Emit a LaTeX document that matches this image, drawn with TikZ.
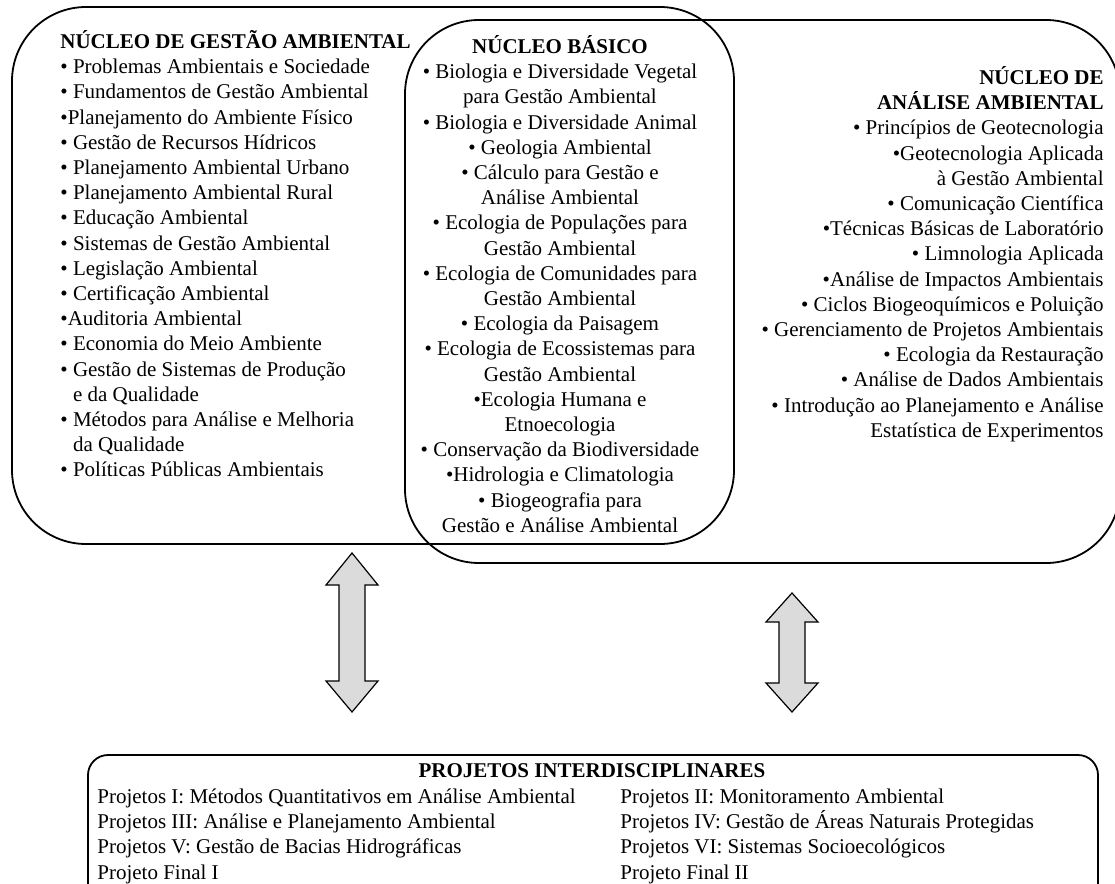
\documentclass[tikz,border=0pt]{standalone}
\usepackage{fontspec}
\setmainfont{Liberation Serif}
\usetikzlibrary{positioning}

\begin{document}
\begin{tikzpicture}[x=0.5pt,y=-0.5pt,
    nucleo/.style={draw, line width=0.9pt, rounded corners=37pt},
    lista/.style={inner sep=0pt, font=\fontsize{10.5}{12.6}\selectfont},
    setadupla/.style={draw, line width=0.6pt, fill=black!14}]
  \useasboundingbox (0,0) rectangle (1115,884);
  \clip (0,0) rectangle (1115,884);

  % os dois nucleos que se cruzam
  \draw[nucleo] (12,7) rectangle (734,544);
  \draw[nucleo] (405,20) rectangle (1120,563);

  \node[lista, anchor=north west, align=left] (gestao) at (60,30) {%
    \textbf{NÚCLEO DE GESTÃO AMBIENTAL}\\
    • Problemas Ambientais e Sociedade\\
    • Fundamentos de Gestão Ambiental\\
    •Planejamento do Ambiente Físico\\
    • Gestão de Recursos Hídricos\\
    • Planejamento Ambiental Urbano\\
    • Planejamento Ambiental Rural\\
    • Educação Ambiental\\
    • Sistemas de Gestão Ambiental\\
    • Legislação Ambiental\\
    • Certificação Ambiental\\
    •Auditoria Ambiental\\
    • Economia do Meio Ambiente\\
    • Gestão de Sistemas de Produção\\
    \hspace*{6.3pt}e da Qualidade\\
    • Métodos para Análise e Melhoria\\
    \hspace*{6.3pt}da Qualidade\\
    • Políticas Públicas Ambientais};

  \node[lista, anchor=north, align=center] (basico) at (560,35) {%
    \textbf{NÚCLEO BÁSICO}\\
    • Biologia e Diversidade Vegetal\\
    para Gestão Ambiental\\
    • Biologia e Diversidade Animal\\
    • Geologia Ambiental\\
    • Cálculo para Gestão e\\
    Análise Ambiental\\
    • Ecologia de Populações para\\
    Gestão Ambiental\\
    • Ecologia de Comunidades para\\
    Gestão Ambiental\\
    • Ecologia da Paisagem\\
    • Ecologia de Ecossistemas para\\
    Gestão Ambiental\\
    •Ecologia Humana e\\
    Etnoecologia\\
    • Conservação da Biodiversidade\\
    •Hidrologia e Climatologia\\
    • Biogeografia para\\
    Gestão e Análise Ambiental};

  \node[lista, anchor=north east, align=right] (analise) at (1104,66) {%
    \textbf{NÚCLEO DE}\\
    \textbf{ANÁLISE AMBIENTAL}\\
    • Princípios de Geotecnologia\hspace*{3.5pt}\\
    •Geotecnologia Aplicada\hspace*{1pt}\\
    à Gestão Ambiental\\
    • Comunicação Científica\\
    •Técnicas Básicas de Laboratório\\
    • Limnologia Aplicada\\
    •Análise de Impactos Ambientais\\
    • Ciclos Biogeoquímicos e Poluição\\
    • Gerenciamento de Projetos Ambientais\\
    • Ecologia da Restauração\\
    • Análise de Dados Ambientais\\
    • Introdução ao Planejamento e Análise\hspace*{3.5pt}\\
    Estatística de Experimentos};

  % setas entre os nucleos e os projetos
  \draw[setadupla, shift={(352,553)}] (0,0) -- (26,32) -- (13,32) -- (13,128)
    -- (26,128) -- (0,159) -- (-26,128) -- (-13,128) -- (-13,32) -- (-26,32) -- cycle;
  \draw[setadupla, shift={(792,593)}] (0,0) -- (26,29) -- (13,29) -- (13,90)
    -- (26,90) -- (0,119) -- (-26,90) -- (-13,90) -- (-13,29) -- (-26,29) -- cycle;

  % projetos
  \draw[nucleo, rounded corners=10pt] (88,755) rectangle (1098,920);
  \node[lista, anchor=north] (projetos) at (592,763) {\textbf{PROJETOS INTERDISCIPLINARES}};
  \node[lista, anchor=north west, align=left] (projA) at (97,783) {%
    \rule{0pt}{10pt}Projetos I: Métodos Quantitativos em Análise Ambiental\\
    Projetos III: Análise e Planejamento Ambiental\\
    Projetos V: Gestão de Bacias Hidrográficas\\
    Projeto Final I};
  \node[lista, anchor=north west, align=left] (projB) at (620,783) {%
    \rule{0pt}{10pt}Projetos II: Monitoramento Ambiental\\
    Projetos IV: Gestão de Áreas Naturais Protegidas\\
    Projetos VI: Sistemas Socioecológicos\\
    Projeto Final II};
\end{tikzpicture}
\end{document}
